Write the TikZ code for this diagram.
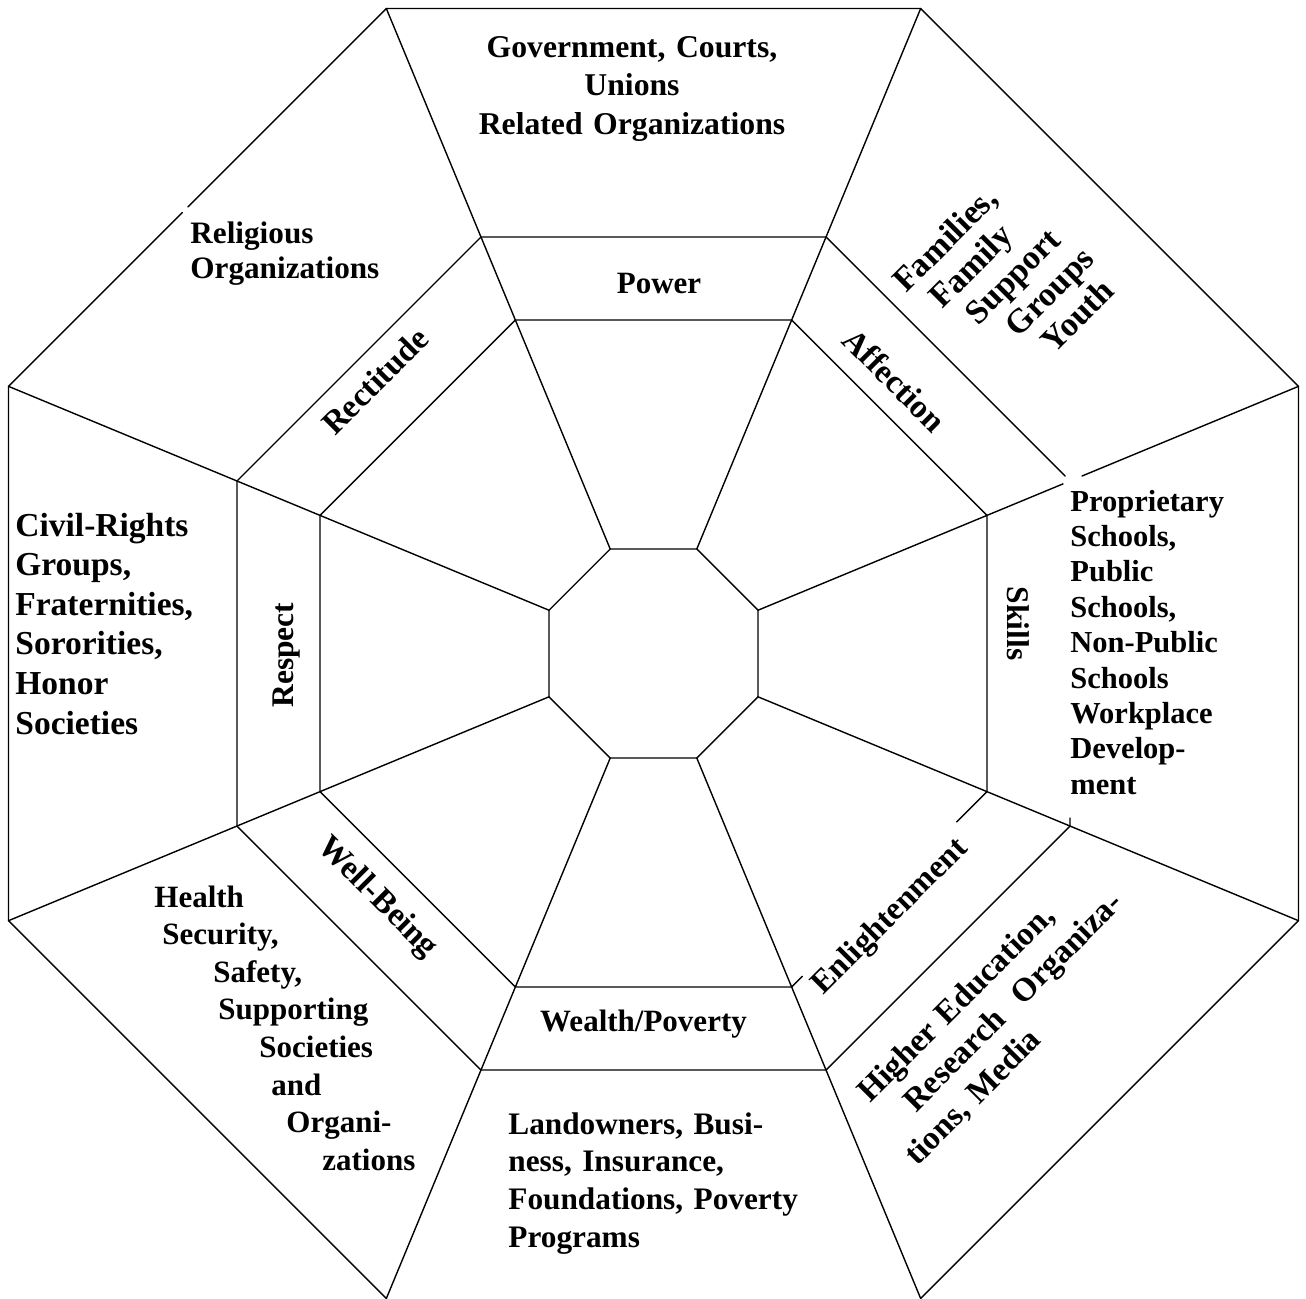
\documentclass[tikz,border=0pt]{standalone}
\usepackage{fontspec}
\setmainfont{Liberation Serif}
\usetikzlibrary{calc}
\newcommand\fsz[2]{\bfseries\fontsize{#1}{#2}\selectfont}
\begin{document}
\begin{tikzpicture}[x=0.5pt,y=-0.5pt,
  edge/.style={line width=0.7pt, line cap=round, line join=round},
  lbl/.style={inner sep=0pt},
  blockl/.style={inner sep=0pt, text width=220pt, align=left, anchor=base west},
  blockc/.style={inner sep=0pt, text width=220pt, align=center, anchor=base}]
\useasboundingbox (0,0) rectangle (1306,1298);
\fill[white] (0,0) rectangle (1306,1298);
% four concentric regular octagons (apothems in px)
\foreach \k/\a in {0/104.5,1/333.5,2/416.5,3/645}{
  \pgfmathsetmacro\ta{0.414214*\a}
  \coordinate (o\k-1) at ({653.5-\ta},{653.5-\a});
  \coordinate (o\k-2) at ({653.5+\ta},{653.5-\a});
  \coordinate (o\k-3) at ({653.5+\a},{653.5-\ta});
  \coordinate (o\k-4) at ({653.5+\a},{653.5+\ta});
  \coordinate (o\k-5) at ({653.5+\ta},{653.5+\a});
  \coordinate (o\k-6) at ({653.5-\ta},{653.5+\a});
  \coordinate (o\k-7) at ({653.5-\a},{653.5+\ta});
  \coordinate (o\k-8) at ({653.5-\a},{653.5-\ta});
}
% central octagon
\draw[edge] (o0-1) -- (o0-2) -- (o0-3) -- (o0-4) -- (o0-5) -- (o0-6) -- (o0-7) -- (o0-8) -- cycle;
% inner octagon (lower-right side mostly hidden)
\draw[edge] (o1-5) -- (o1-6) -- (o1-7) -- (o1-8) -- (o1-1) -- (o1-2) -- (o1-3) -- (o1-4) -- ($(o1-4)!0.155!(o1-5)$);
\draw[edge] ($(o1-4)!0.945!(o1-5)$) -- (o1-5);
% middle octagon (right side hidden)
\draw[edge] ($(o2-4)!0.023!(o2-3)$) -- (o2-4) -- (o2-5) -- (o2-6) -- (o2-7) -- (o2-8) -- (o2-1) -- (o2-2) -- ($(o2-2)!0.98!(o2-3)$);
% outer octagon
\draw[edge] (o3-5) -- (o3-4) -- (o3-3) -- (o3-2) -- (o3-1) -- ($(o3-1)!0.525!(o3-8)$);
\draw[edge] ($(o3-1)!0.54!(o3-8)$) -- (o3-8) -- (o3-7) -- (o3-6);
% radial dividers
\foreach \k in {1,2,4,5,6,7,8} \draw[edge] (o0-\k) -- (o3-\k);
\draw[edge] (o0-3) -- ($(o0-3)!0.5643!(o3-3)$);
\draw[edge] ($(o0-3)!0.5994!(o3-3)$) -- (o3-3);
% ring labels
\node[lbl, anchor=base, font=\fsz{15.5pt}{18pt}] (power) at (659,293) {Power};
\node[lbl, anchor=base, font=\fsz{15.5pt}{18pt}] (wealth) at (643.5,1031) {Wealth/Poverty};
\node[lbl, rotate=45, font=\fsz{16.5pt}{18pt}] (rect) at (375,381) {Rectitude};
\node[lbl, rotate=-45, font=\fsz{16.5pt}{18pt}] (aff) at (894.5,380) {Affection};
\node[lbl, rotate=-90, anchor=base, font=\fsz{15.75pt}{18pt}] (skills) at (1007,623.5) {Skills};
\node[lbl, rotate=90, anchor=base, font=\fsz{15.75pt}{18pt}] (respect) at (293,655) {Respect};
\node[lbl, rotate=45, font=\fsz{16.25pt}{18pt}] (enl) at (890.5,917.5) {Enlightenment};
\node[lbl, rotate=-45, font=\fsz{16.5pt}{18pt}] (well) at (377,898) {Well-Being};
% outer sector texts
\node[blockc, font=\fsz{15.85pt}{19.25pt}] (gov) at (632,57) {Government, Courts,\\Unions\\Related Organizations};
\node[blockl, font=\fsz{15.6pt}{17.5pt}] (relig) at (190,243) {Religious\\Organizations};
\node[blockl, font=\fsz{16.75pt}{19.8pt}] (civil) at (15,536) {Civil-Rights\\Groups,\\Fraternities,\\Sororities,\\Honor\\Societies};
\node[blockl, font=\fsz{15.25pt}{17.7pt}] (prop) at (1070,511) {Proprietary\\Schools,\\Public\\Schools,\\Non-Public\\Schools\\Workplace\\Develop-\\ment};
\node[blockl, font=\fsz{15.65pt}{18.85pt}] (land) at (508,1134) {Landowners, Busi-\\ness, Insurance,\\Foundations, Poverty\\Programs};
\node[blockl, font=\fsz{15.5pt}{18.8pt}] (health) at (154,907) {Health\\\hspace*{4pt}Security,\\\hspace*{29.5pt}Safety,\\\hspace*{32pt}Supporting\\\hspace*{52.5pt}Societies\\\hspace*{58.5pt}and\\\hspace*{66pt}Organi-\\\hspace*{84pt}zations};
\node[blockl, rotate=45, font=\fsz{17pt}{18.5pt}] (fam) at (906,294) {Families,\\\hspace*{7pt}Family\\\hspace*{14pt}Support\\\hspace*{24pt}Groups\\\hspace*{31pt}Youth};
\node[blockl, rotate=45, font=\fsz{16.5pt}{19.5pt}] (higher) at (862,1112) {\hspace*{5.5pt}Higher Education,\\\hspace*{18.5pt}Research~~Organiza-\\tions, Media};
\end{tikzpicture}
\end{document}
